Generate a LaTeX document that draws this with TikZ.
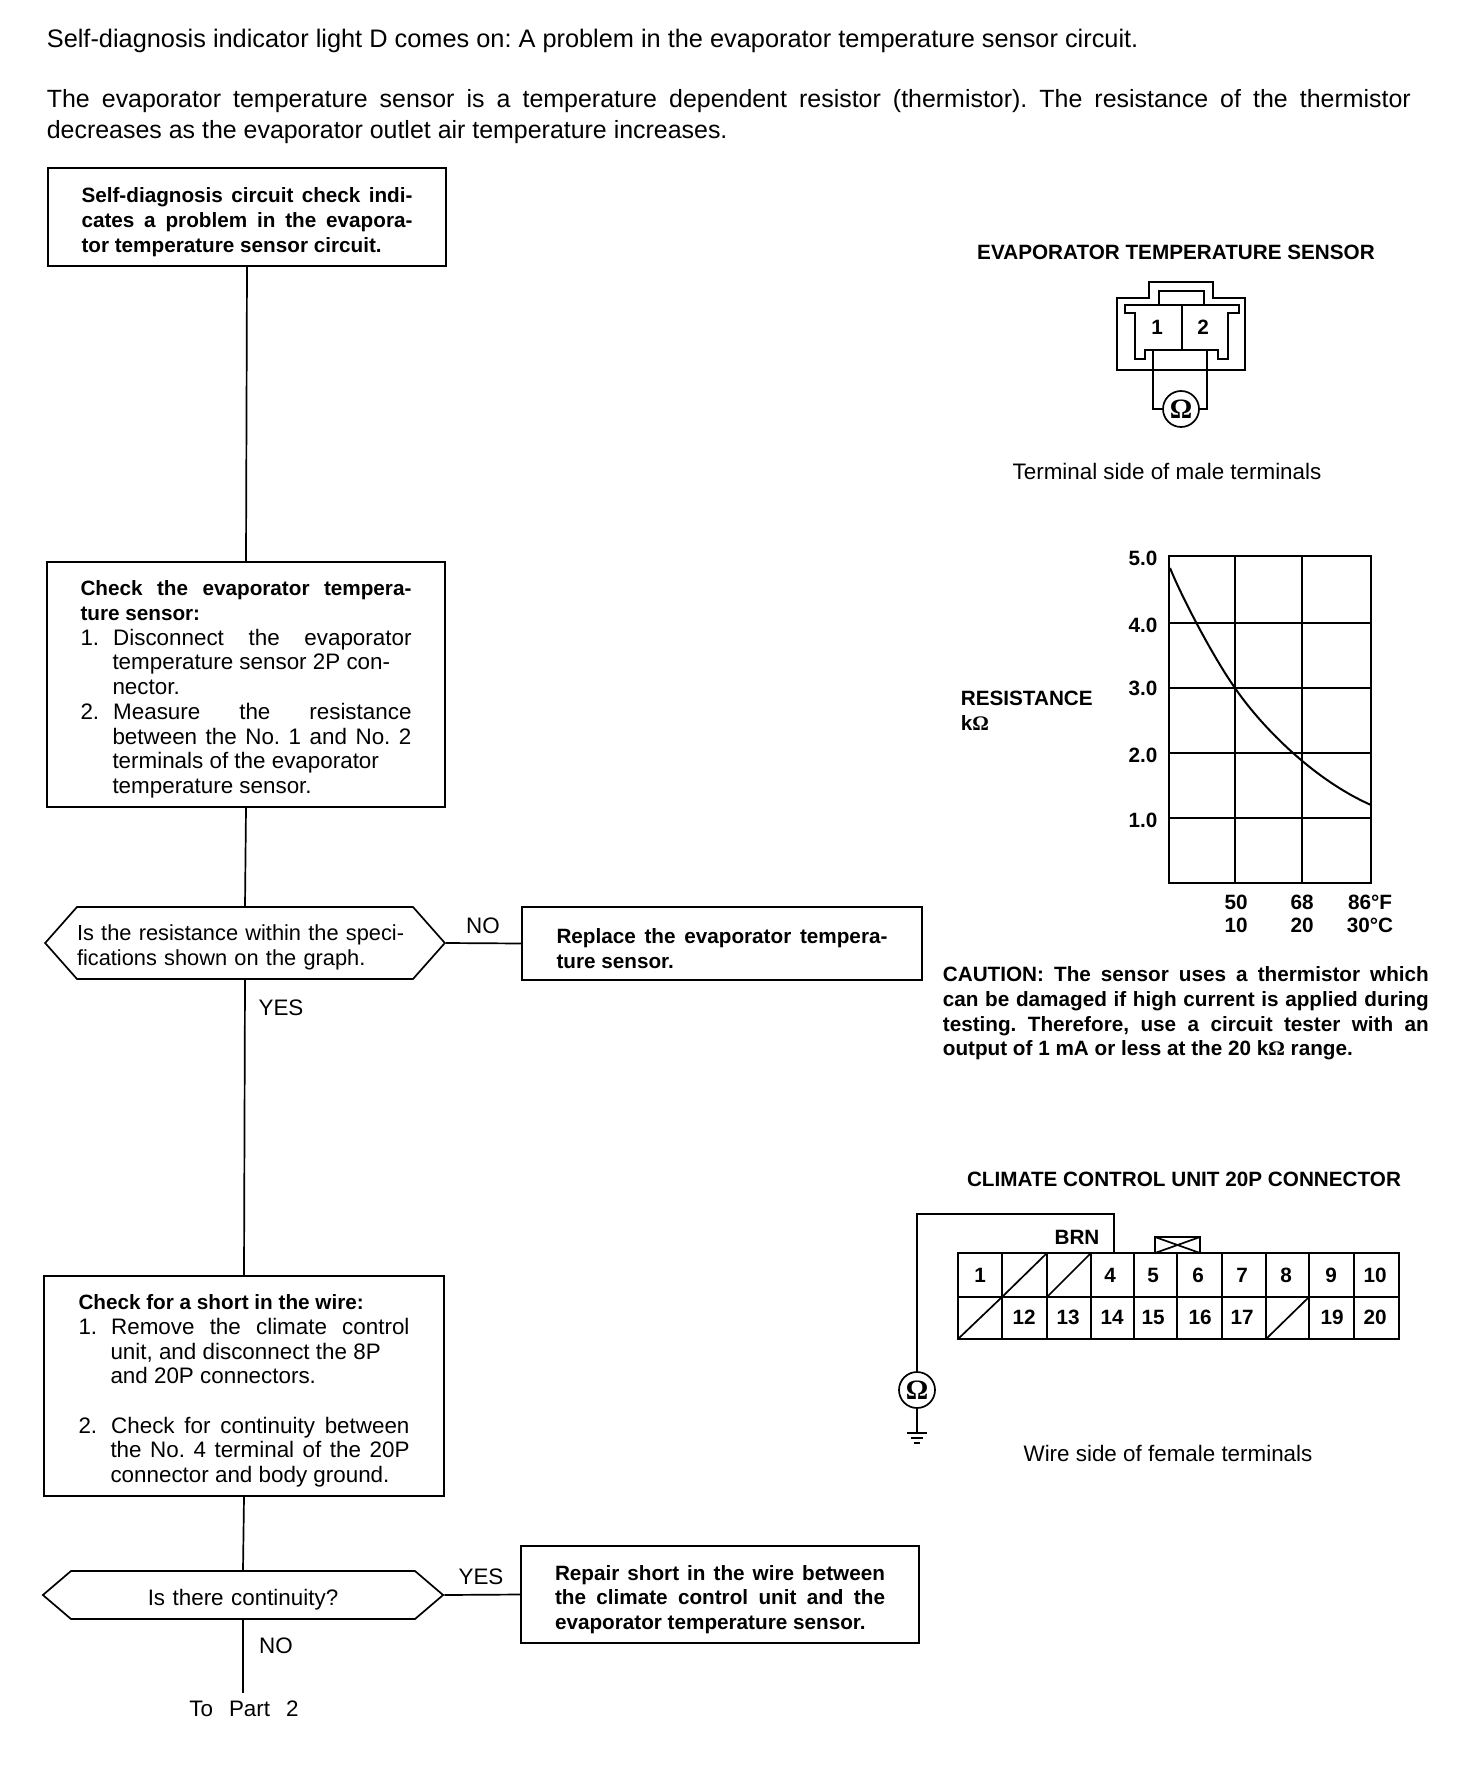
\documentclass[tikz,border=0pt]{standalone}
\usepackage{fontspec}
\setmainfont{Liberation Sans}
\newfontfamily\ohmfont{Liberation Serif}
\usetikzlibrary{shapes.symbols}
\frenchspacing
\newcommand{\ohm}{{\ohmfont\bfseries Ω}}
\newcommand{\bigfont}{\fontsize{12.47}{15.3}\selectfont}
\newcommand{\regfont}{\fontsize{11.2}{12.34}\selectfont}
\newcommand{\boldfont}{\fontsize{10.35}{12.34}\selectfont\bfseries}
\newcommand{\topgap}{\rule{0pt}{12.5pt}}

\begin{document}
\begin{tikzpicture}[x=0.5pt, y=-0.5pt, line width=0.85pt,
    plain/.style={inner sep=0pt, font=\regfont},
    heavy/.style={inner sep=0pt, font=\boldfont},
    para/.style={inner sep=0pt, anchor=north west, align=justify, text width=#1},
    box/.style={draw, rectangle, inner sep=0pt, minimum width=#1, align=justify,
                execute at begin node=\topgap},
    hexbox/.style={draw, signal, signal to=west and east,
                   inner sep=0pt, font=\regfont, execute at begin node=\topgap},
    meter/.style={draw, circle, inner sep=0pt, minimum size=18pt,
                  font=\fontsize{14}{14}\selectfont}]
  \useasboundingbox (0,0) rectangle (1472,1780);

  %% Heading text
  \node[plain, font=\fontsize{12.67}{15.3}\selectfont, anchor=west] (title) at (46,41)
    {Self-diagnosis indicator light D comes on: A problem in the evaporator temperature sensor circuit.};
  \node[para=682pt, font=\bigfont] (intro) at (46,89)
    {The evaporator temperature sensor is a temperature dependent resistor (thermistor). The resistance of the thermistor\linebreak decreases as the evaporator outlet air temperature increases.};

  %% LEFT COLUMN: flow
  \node[box=199pt, minimum height=49pt, text width=165.5pt, font=\boldfont] (start) at (247,217)
    {Self-diagnosis circuit check indi-\linebreak cates a problem in the evapora-\linebreak tor temperature sensor circuit.};

  \node[box=199pt, minimum height=122.5pt, text width=165.5pt, font=\regfont] (check1) at (246,684.5)
    {{\boldfont Check the evaporator tempera-\linebreak ture sensor:}\\
     1.\hspace{7pt}Disconnect the evaporator\linebreak
     \hspace*{16pt}temperature sensor 2P con-\\
     \hspace*{16pt}nector.\\
     2.\hspace{7pt}Measure the resistance\linebreak
     \hspace*{16pt}between the No. 1 and No. 2\linebreak
     \hspace*{16pt}terminals of the evaporator\\
     \hspace*{16pt}temperature sensor.};
  \draw (start.south) -- (check1.north);

  \node[hexbox, font=\fontsize{10.9}{12.34}\selectfont, signal pointer angle=97, minimum height=36pt, text width=168pt, align=left] (spec) at (245,943)
    {Is the resistance within the speci-\\fications shown on the graph.};
  \draw (check1.south) -- (spec.north);

  \node[box=200pt, minimum height=36.5pt, text width=165.5pt, font=\boldfont] (replace) at (722,943.5)
    {Replace the evaporator tempera-\linebreak ture sensor.};
  \draw (spec.east) -- (replace.west);
  \node[plain] (specno) at (483,926) {NO};
  \node[plain] (specyes) at (281,1008) {YES};

  \node[box=200pt, minimum height=110pt, text width=165.5pt, font=\regfont] (check2) at (244,1386)
    {{\boldfont Check for a short in the wire:}\\
     1.\hspace{7pt}Remove the climate control\linebreak
     \hspace*{16pt}unit, and disconnect the 8P\\
     \hspace*{16pt}and 20P connectors.\\[12.34pt]
     2.\hspace{7pt}Check for continuity between\linebreak
     \hspace*{16pt}the No. 4 terminal of the 20P\linebreak
     \hspace*{16pt}connector and body ground.};
  \draw (spec.south) -- (check2.north);

  \node[hexbox, signal pointer angle=81, minimum height=24pt, text width=172pt, align=center] (cont) at (243,1595)
    {Is there continuity?};
  \draw (check2.south) -- (cont.north);

  \node[box=199pt, minimum height=48.5pt, text width=165pt, font=\boldfont] (repair) at (720,1594.5)
    {Repair short in the wire between\linebreak the climate control unit and the\linebreak evaporator temperature sensor.};
  \draw (cont.east) -- (repair.west);
  \node[plain] (contyes) at (481,1577) {YES};
  \node[plain] (contno) at (276,1646) {NO};

  \node[plain] (part2) at (244,1709) {To\hspace{8pt}Part\hspace{8pt}2};
  \coordinate (partend) at (243,1693);
  \draw (cont.south) -- (partend);

  %% Evaporator sensor connector
  \node[heavy] (senstitle) at (1176,252) {EVAPORATOR TEMPERATURE SENSOR};
  \draw (1117,298) -- (1149,298) -- (1149,282) -- (1213,282) -- (1213,298) -- (1245,298)
    -- (1245,370) -- (1117,370) -- cycle;
  \draw (1159,305) -- (1159,291) -- (1204,291) -- (1204,305);
  \draw (1125,305) -- (1239,305) -- (1239,313) -- (1228,313) -- (1228,359) -- (1218,359)
    -- (1218,350) -- (1145,350) -- (1145,359) -- (1135,359) -- (1135,313) -- (1125,313) -- cycle;
  \draw (1182,305) -- (1182,350);
  \node[heavy] (pin1) at (1157,327) {1};
  \node[heavy] (pin2) at (1203,327) {2};
  \node[meter] (ohma) at (1181,409) {\ohm};
  \coordinate (terma) at (1153,350);
  \coordinate (termb) at (1207,350);
  \draw (terma) |- (ohma.west);
  \draw (termb) |- (ohma.east);
  \node[plain] (senscap) at (1167,471) {Terminal side of male terminals};

  %% Resistance graph
  \draw (1169,556) rectangle (1371,883);
  \foreach \gx in {1235,1302} \draw (\gx,556) -- (\gx,883);
  \foreach \gy in {623,688,753,818} \draw (1169,\gy) -- (1371,\gy);
  \draw[line width=1pt] (1170,568) .. controls (1183,600) and (1215,660) .. (1235,688)
    .. controls (1258,722) and (1310,778) .. (1371,805);
  \foreach \gval/\gy in {5.0/558,4.0/625,3.0/688,2.0/755,1.0/820}
    \node[heavy] (y\gy) at (1143,\gy) {\gval};
  \node[heavy, anchor=west] (restitle) at (960,698) {RESISTANCE};
  \node[heavy, anchor=west] (resunit) at (960,723) {k\ohm};
  \node[heavy] (f50) at (1236,902) {50};
  \node[heavy] (c10) at (1236,925) {10};
  \node[heavy] (f68) at (1302,902) {68};
  \node[heavy] (c20) at (1302,925) {20};
  \node[heavy] (f86) at (1370,902) {86°F};
  \node[heavy] (c30) at (1370,925) {30°C};

  \node[para=243pt, font=\boldfont] (caution) at (942,966)
    {CAUTION: The sensor uses a thermistor which\linebreak can be damaged if high current is applied during\linebreak testing. Therefore, use a circuit tester with an\linebreak output of 1 mA or less at the 20 k\ohm{} range.};

  %% Climate control unit connector
  \node[heavy] (unittitle) at (1184,1179) {CLIMATE CONTROL UNIT 20P CONNECTOR};
  \draw (958,1253) rectangle (1399,1339);
  \draw (958,1297) -- (1399,1297);
  \foreach \cx in {1002,1047,1091,1134,1177,1222,1266,1309,1354} \draw (\cx,1253) -- (\cx,1339);
  \draw (1002,1297) -- (1047,1253);
  \draw (1047,1297) -- (1091,1253);
  \draw (958,1339) -- (1002,1297);
  \draw (1266,1339) -- (1309,1297);
  \draw (1155,1253) -- (1155,1237) -- (1200,1237) -- (1200,1253);
  \draw (1155,1253) -- (1200,1237) (1155,1237) -- (1200,1253);
  \foreach \pin/\cx in {1/980,4/1110,5/1153,6/1198,7/1242,8/1286,9/1331,10/1375}
    \node[heavy] (top\pin) at (\cx,1275) {\pin};
  \foreach \pin/\cx in {12/1024,13/1068,14/1112,15/1153,16/1200,17/1242,19/1332,20/1375}
    \node[heavy] (bot\pin) at (\cx,1317) {\pin};
  \node[heavy] (brn) at (1077,1237) {BRN};
  \node[meter] (ohmb) at (917,1390) {\ohm};
  \coordinate (pinfour) at (1114,1253);
  \draw (ohmb.north) |- (1114,1214) -- (pinfour);
  \coordinate (gnd) at (917,1433);
  \draw (ohmb.south) -- (gnd);
  \draw (907,1433) -- (927,1433) (911,1438) -- (923,1438) (914,1443) -- (920,1443);
  \node[plain] (unitcap) at (1168,1453) {Wire side of female terminals};
\end{tikzpicture}
\end{document}
